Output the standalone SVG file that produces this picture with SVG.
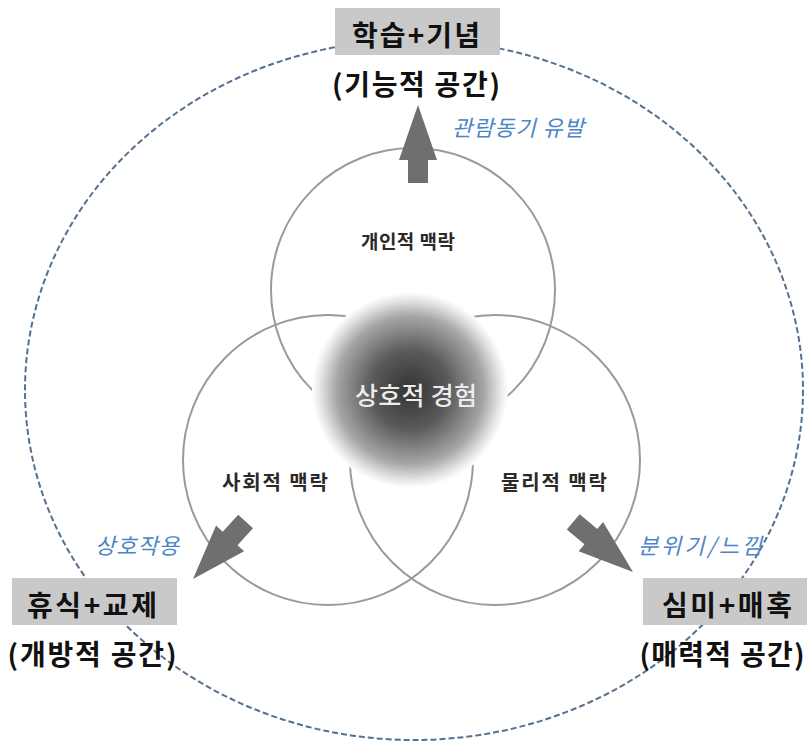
<svg xmlns="http://www.w3.org/2000/svg" width="810" height="741" viewBox="0 0 810 741">
<style>
.ctx{fill:none;stroke:#9a9a9a;stroke-width:2}
.lbl{font-family:"Noto Sans CJK KR","Noto Sans",sans-serif;font-weight:bold;fill:#111;text-anchor:middle}
.sub{font-family:"Noto Sans CJK KR","Noto Sans",sans-serif;font-weight:bold;fill:#2a2a2a;text-anchor:middle}
.blue{font-family:"Noto Sans CJK KR","Noto Sans",sans-serif;font-size:22px;font-style:italic;fill:#4a86c6;text-anchor:middle}
.box{fill:#c9c9c9}
.arr{fill:#6f6f6f}
</style>
<defs>
<radialGradient id="g" cx="50%" cy="50%" r="50%">
<stop offset="0" stop-color="#333"/>
<stop offset="0.4" stop-color="#5a5a5a"/>
<stop offset="0.75" stop-color="#a5a5a5"/>
<stop offset="0.92" stop-color="#e6e6e6"/>
<stop offset="1" stop-color="#fff"/>
</radialGradient>
<path id="arrow" d="M0,0 L19,55 L10,55 L10,78 L-10,78 L-10,55 L-19,55 Z"/>
</defs>
<rect width="810" height="741" fill="#fff"/>
<g id="outer">
<ellipse cx="414" cy="390" rx="389" ry="350" fill="none" stroke="#56708f" stroke-width="2" stroke-dasharray="6,3"/>
</g>
<g id="contexts">
<circle class="ctx" cx="413" cy="290" r="142"/>
<circle class="ctx" cx="328" cy="460" r="145"/>
<circle class="ctx" cx="495" cy="460" r="145"/>
</g>
<g id="center">
<circle cx="410" cy="390" r="98" fill="url(#g)"/>
<text x="416" y="405" font-family="Noto Sans CJK KR, Noto Sans, sans-serif" font-size="25" font-weight="500" fill="#ececec" text-anchor="middle" textLength="122">상호적 경험</text>
</g>
<g id="labels-ctx">
<text class="sub" x="408" y="249" font-size="19" textLength="94">개인적 맥락</text>
<text class="sub" x="275" y="490" font-size="20" textLength="106">사회적 맥락</text>
<text class="sub" x="554" y="490" font-size="20" textLength="106">물리적 맥락</text>
</g>
<g id="connectors">
<use href="#arrow" class="arr" transform="translate(418,105)"/>
<use href="#arrow" class="arr" transform="translate(193,579) rotate(222.4)"/>
<use href="#arrow" class="arr" transform="translate(633,572) rotate(130)"/>
</g>
<g id="blue-labels">
<text class="blue" x="518" y="136" textLength="132">관람동기 유발</text>
<text class="blue" x="137" y="554" textLength="84">상호작용</text>
<text class="blue" x="700" y="554" textLength="124">분위기/느낌</text>
</g>
<g id="top-node">
<rect class="box" x="335" y="8" width="165" height="47"/>
<text class="lbl" x="416" y="46" font-size="28" textLength="128">학습+기념</text>
<text class="lbl" x="416" y="95" font-size="28" textLength="168">(기능적 공간)</text>
</g>
<g id="left-node">
<rect class="box" x="12" y="578" width="165" height="47"/>
<text class="lbl" x="92" y="616" font-size="28" textLength="130">휴식+교제</text>
<text class="lbl" x="92" y="665" font-size="28" textLength="169">(개방적 공간)</text>
</g>
<g id="right-node">
<rect class="box" x="643" y="578" width="164" height="47"/>
<text class="lbl" x="727" y="616" font-size="28" textLength="130">심미+매혹</text>
<text class="lbl" x="722" y="665" font-size="28" textLength="165">(매력적 공간)</text>
</g>
</svg>
